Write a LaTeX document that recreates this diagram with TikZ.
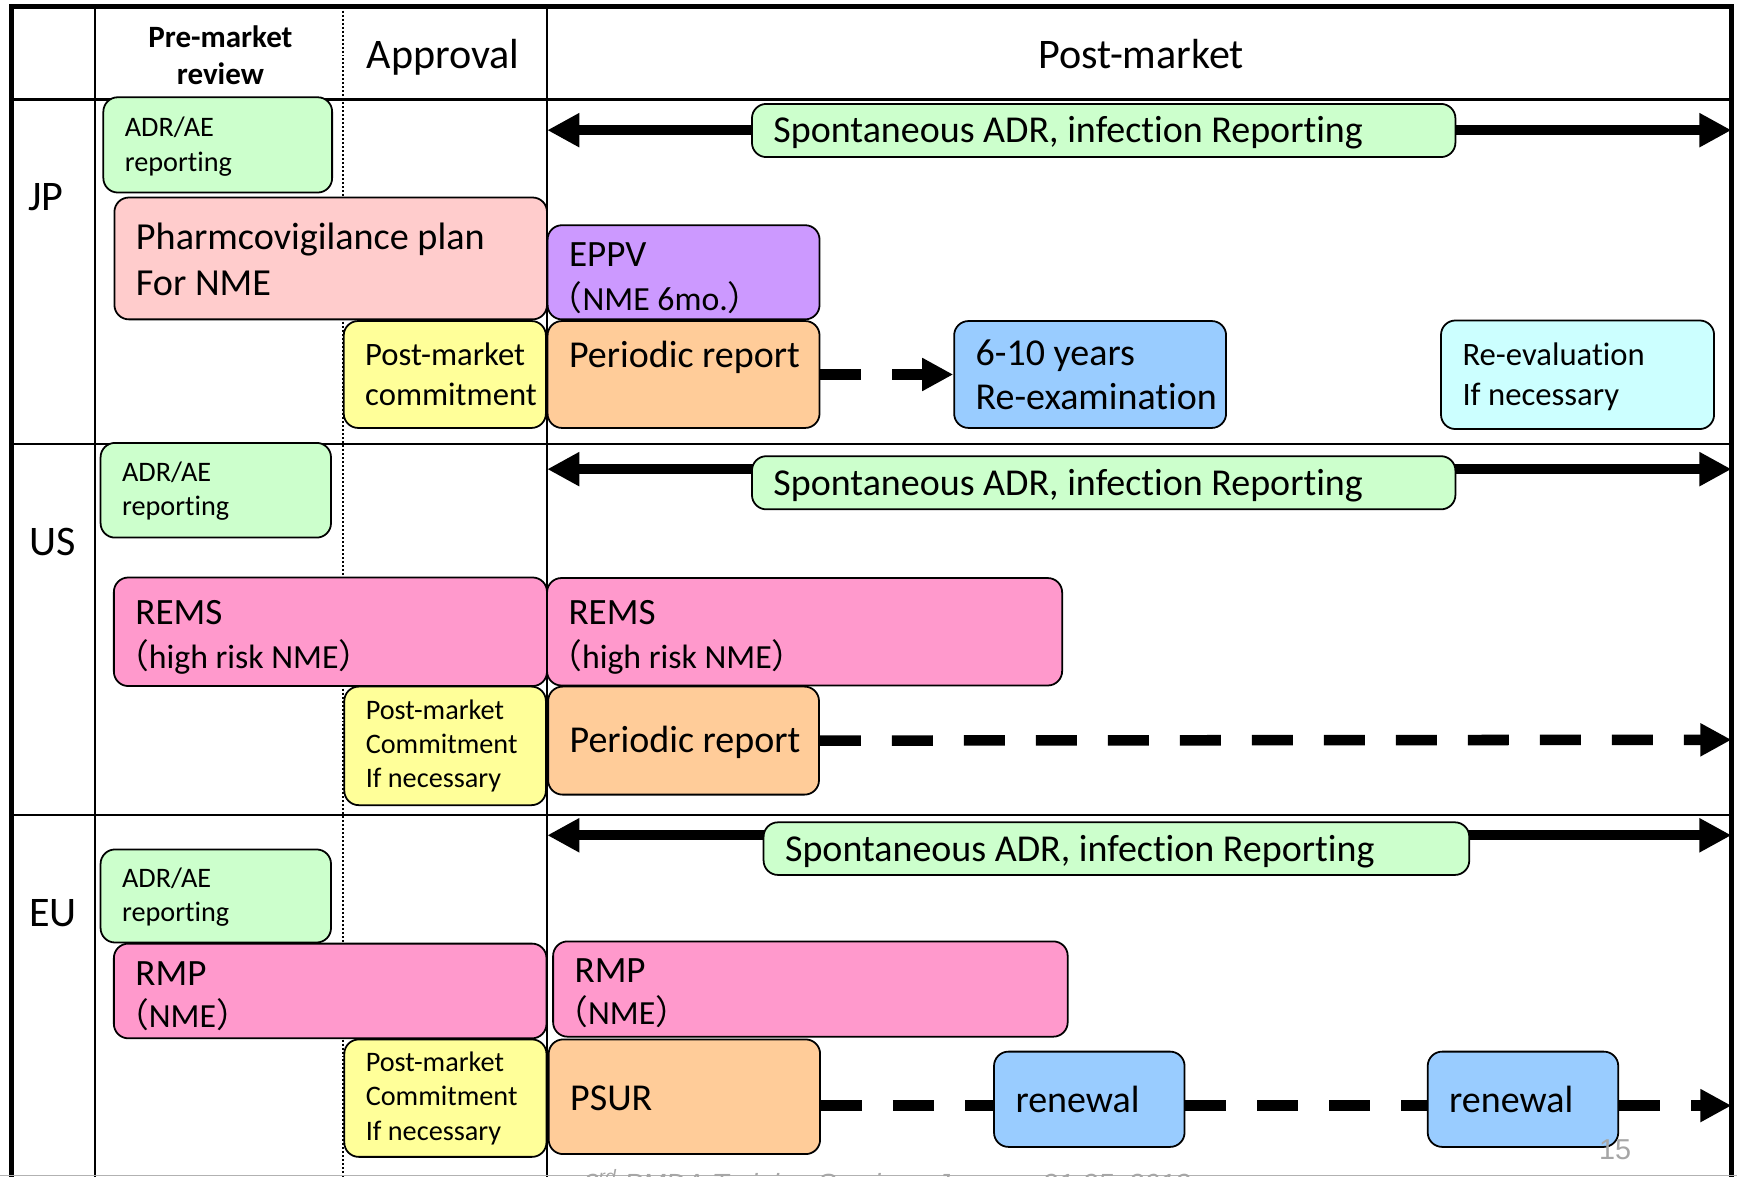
\documentclass[tikz,border=0pt]{standalone}
\usepackage{fontspec}
\setmainfont{Carlito}[Ligatures=NoCommon]
\newfontfamily\cjkfont{Noto Sans CJK JP}
\newfontfamily\footfont{Liberation Sans}
\usetikzlibrary{arrows.meta}

\definecolor{cGreen}{HTML}{CCFFCC}
\definecolor{cRose}{HTML}{FFCCCC}
\definecolor{cViolet}{HTML}{CC99FF}
\definecolor{cYellow}{HTML}{FFFF99}
\definecolor{cOrange}{HTML}{FFCC99}
\definecolor{cBlue}{HTML}{99CCFF}
\definecolor{cCyan}{HTML}{CCFFFF}
\definecolor{cPink}{HTML}{FF99CC}

% full-width brackets
\newcommand\zlp{\smash{\cjkfont （}}
\newcommand\zrp{\smash{\cjkfont ）}}
% text sizes
\newcommand\fbig{\fontsize{34.3}{40}\selectfont}
\newcommand\fmid{\fontsize{29.5}{36}\selectfont}
\newcommand\fsmall{\fontsize{25.5}{31}\selectfont}
\newcommand\ftitle{\fontsize{33.5}{39}\selectfont}
\newcommand\fsub{\fontsize{30.5}{39}\selectfont}

% rounded box with its left-aligned label:
% [label shift], name, x1, y1, x2, y2, fill, font, text
\newcommand\pbox[9][0]{%
  \pgfmathsetmacro\pbw{#5-#3}%
  \pgfmathsetmacro\pbh{#6-#4}%
  \node[box, fill=#7, minimum width=\pbw pt, minimum height=\pbh pt] (#2) at (#3,#4) {};
  \node[boxtext, font=#8] (#2-t) at ([xshift=20pt, yshift=#1pt]#2.west) {#9};}

\begin{document}
\begin{tikzpicture}[x=1pt,y=-1pt,
  box/.style={draw=black, line width=1.6pt, rounded corners=13pt,
    anchor=north west, inner sep=0pt},
  boxtext/.style={anchor=west, inner sep=0pt, align=left},
  frameline/.style={line width=4pt, line join=miter},
  gridline/.style={line width=2.2pt},
  dotline/.style={line width=1.8pt, dash pattern=on 1.8pt off 1.8pt},
  spont/.style={line width=9pt,
    {Triangle[length=29pt,width=29pt]}-{Triangle[length=29pt,width=29pt]}},
  dashseg/.style={line width=9.5pt, dash pattern=on 37pt off 28pt},
  dasharrow/.style={dashseg, -{Triangle[length=28pt,width=28pt]}},
  rowlabel/.style={font=\fontsize{38}{45}\selectfont, anchor=base},
  headlabel/.style={font=\fontsize{38}{45}\selectfont, anchor=base},
]
\clip (0,0) rectangle (1568,1062);

% ---- table grid ----
\draw[frameline] (10.5,1070) -- (10.5,6) -- (1563,6) -- (1563,1070);
\draw[gridline] (10.5,89.7) -- (1563,89.7);
\draw[gridline] (10.5,401) -- (1563,401);
\draw[gridline] (10.5,735.5) -- (1563,735.5);
\draw[gridline] (86,6) -- (86,1070);
\draw[gridline] (494,6) -- (494,1070);
\draw[dotline] (310,6) -- (310,1070);
\draw[gray!60, line width=1pt] (0,1061.3) -- (1568,1061.3);

% ---- headers ----
\node[font=\bfseries\fontsize{28}{33.5}\selectfont, align=center] (hpre) at (199,49.5) {Pre-market\\review};
\node[headlabel] (happ) at (400,61.7) {Approval};
\node[headlabel] (hpost) at (1030,61.7) {Post-market};

\node[rowlabel] (lJP) at (41.6,189.6) {JP};
\node[rowlabel] (lUS) at (47.5,501) {US};
\node[rowlabel] (lEU) at (48,836) {EU};

% ---- spontaneous reporting spans ----
\coordinate (jpL) at (494,117.5);  \coordinate (jpR) at (1563,117.5);
\coordinate (usL) at (494,423.5);  \coordinate (usR) at (1563,423.5);
\coordinate (euL) at (494,754);    \coordinate (euR) at (1563,754);
\draw[spont] (jpL) -- (jpR);
\draw[spont] (usL) -- (usR);
\draw[spont] (euL) -- (euR);

% ---- JP ----
\pbox[-1.5]{adrJP}{92.5}{87}{299}{173}{cGreen}{\fsmall}{ADR/AE\\reporting}
\pbox[-2]{spJP}{678}{93}{1313}{141}{cGreen}{\fbig}{Spontaneous ADR, infection Reporting}
\pbox[-1]{pvJP}{102.5}{177.5}{493}{287.5}{cRose}{\fontsize{34.5}{41}\selectfont}{Pharmcovigilance plan\\For NME}
\pbox[-4]{eppv}{493.5}{202.5}{739}{287.5}{cViolet}{\ftitle}{EPPV\\{\fsub\hspace*{-0.6em}\zlp NME 6mo.\zrp}}
\pbox{pmcJP}{309.5}{289}{492}{385.5}{cYellow}{\fmid}{Post-market\\commitment}
\pbox[-2]{prJP}{493.5}{289}{739}{385.5}{cOrange}{\fbig}{Periodic report\\\mbox{}}
\pbox{reexam}{860.5}{289}{1106}{385.5}{cBlue}{\fbig}{6-10 years\\Re-examination}
\pbox[-2]{reeval}{1300}{288.5}{1546.5}{386.5}{cCyan}{\fmid}{Re-evaluation\\If necessary}

% ---- US ----
\pbox[-1]{adrUS}{90}{399}{298}{484.5}{cGreen}{\fsmall}{ADR/AE\\reporting}
\pbox[-2.5]{spUS}{678}{411}{1313}{459}{cGreen}{\fbig}{Spontaneous ADR, infection Reporting}
\pbox[-5]{remsL}{102}{520.5}{493}{618.5}{cPink}{\ftitle}{REMS\\{\fsub\hspace*{-0.6em}\zlp high risk NME\zrp}}
\pbox[-5]{remsR}{493}{521}{958}{618}{cPink}{\ftitle}{REMS\\{\fsub\hspace*{-0.6em}\zlp high risk NME\zrp}}
\pbox{pmcUS}{310}{619}{492}{726}{cYellow}{\fsmall}{Post-market\\Commitment\\If necessary}
\pbox[-2]{prUS}{494}{619}{738.5}{716.5}{cOrange}{\fbig}{Periodic report}

% ---- EU ----
\pbox[-2.5]{spEU}{688.5}{741.5}{1325.5}{789}{cGreen}{\fbig}{Spontaneous ADR, infection Reporting}
\pbox[-1]{adrEU}{90}{766}{298}{850}{cGreen}{\fsmall}{ADR/AE\\reporting}
\pbox[-3]{rmpL}{102}{851}{492.5}{936.5}{cPink}{\fontsize{33.5}{38}\selectfont}{RMP\\{\fsub\hspace*{-0.6em}\zlp NME\zrp}}
\pbox[-2]{rmpR}{498.5}{849}{963}{935}{cPink}{\fontsize{33.5}{38}\selectfont}{RMP\\{\fsub\hspace*{-0.6em}\zlp NME\zrp}}
\pbox{pmcEU}{310}{937.5}{492.5}{1043.5}{cYellow}{\fsmall}{Post-market\\Commitment\\If necessary}
\pbox[-1]{psur}{494.5}{937.5}{739.5}{1041}{cOrange}{\fbig}{PSUR}
\pbox{ren1}{896.5}{948.5}{1068.5}{1034.5}{cBlue}{\fbig}{renewal}
\pbox{ren2}{1288}{948.5}{1460}{1034.5}{cBlue}{\fbig}{renewal}

% ---- periodic reporting timelines ----
\draw[dasharrow] (prJP.east) -- (reexam.west);
\coordinate (usEnd) at (1563,667.8);
\draw[dasharrow] (prUS.east) -- (usEnd);
\coordinate (euY) at (0,998);
\coordinate (euEnd) at (1563,998);
\draw[dashseg] (psur.east |- euY) -- (ren1.west |- euY);
\draw[dashseg] (ren1.east |- euY) -- (ren2.west |- euY);
\draw[dasharrow] (ren2.east |- euY) -- (euEnd);

% ---- slide footer ----
\node[anchor=base, font=\footfont\fontsize{26}{30}\selectfont, text=gray!70] (pgno) at (1458,1047) {15};
\node[anchor=base west, font=\footfont\itshape\fontsize{25}{30}\selectfont, text=gray!70] (footer) at (523,1077) {3\textsuperscript{rd} PMDA Training Seminar \ January 21-25, 2013};
\end{tikzpicture}
\end{document}
